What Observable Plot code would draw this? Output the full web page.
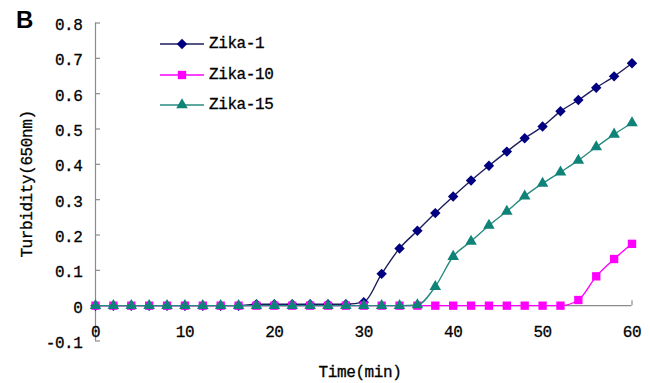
<!DOCTYPE html>
<html>
<head>
<meta charset="utf-8">
<script src="https://cdn.jsdelivr.net/npm/d3@7"></script>
<script src="https://cdn.jsdelivr.net/npm/@observablehq/plot@0.6"></script>
<style>
  html, body { margin: 0; padding: 0; background: #fff; }
  #chart { width: 650px; height: 383px; }
</style>
</head>
<body>
<div id="chart"></div>
<script>
// ---- data ----
const time = [0, 2, 4, 6, 8, 10, 12, 14, 16, 18, 20, 22, 24, 26, 28, 30,
              32, 34, 36, 38, 40, 42, 44, 46, 48, 50, 52, 54, 56, 58, 60];
const zika1 = [0, 0, 0, 0, 0, 0, 0, 0, 0, 0.004, 0.004, 0.004, 0.004, 0.004, 0.004, 0.01,
               0.09, 0.162, 0.212, 0.262, 0.309, 0.354, 0.396, 0.436, 0.474, 0.507, 0.55, 0.582, 0.617, 0.649, 0.686];
const zika10 = [0, 0, 0, 0, 0, 0, 0, 0, 0, 0, 0, 0, 0, 0, 0, 0,
                0, 0, 0, 0, 0, 0, 0, 0, 0, 0, 0, 0.016, 0.083, 0.132, 0.175];
const zika15 = [0, 0, 0, 0, 0, 0, 0, 0, 0, 0, 0, 0, 0, 0, 0, 0,
                0, 0, 0.002, 0.054, 0.139, 0.182, 0.227, 0.267, 0.31, 0.346, 0.378, 0.411, 0.449, 0.485, 0.517];
const seriesNames = ["Zika-1", "Zika-10", "Zika-15"];
const xTicks = [0, 10, 20, 30, 40, 50, 60];
const xTickLabels = ["0", "10", "20", "30", "40", "50", "60"];
const yTicks = [-0.1, 0, 0.1, 0.2, 0.3, 0.4, 0.5, 0.6, 0.7, 0.8];
const yTickLabels = ["-0.1", "0", "0.1", "0.2", "0.3", "0.4", "0.5", "0.6", "0.7", "0.8"];
const xTitle = "Time(min)";
const yTitle = "Turbidity(650nm)";
const panelLabel = "B";

// ---- styles ----
const FONT = "'Liberation Mono', 'DejaVu Sans Mono', monospace";
const AXIS = "#8c8c8c";
const TEXT_STROKE = 0.3;
const styles = {
  "Zika-1":  {line: "#1d1d5e", fill: "#000080", symbol: "diamond2", r: 4.7},
  "Zika-10": {line: "#ff00ff", fill: "#ff00ff", symbol: "square",   r: 4.7},
  "Zika-15": {line: "#2a8a82", fill: "#0f8378", symbol: "triangle", r: 4.3}
};

const valuesBySeries = [zika1, zika10, zika15];
const rows = seriesNames.map((name, s) =>
  time.map((t, i) => ({series: name, time: t, value: valuesBySeries[s][i]})));

const yLabelMap = new Map(yTicks.map((t, i) => [t, yTickLabels[i]]));
const xLabelMap = new Map(xTicks.map((t, i) => [t, xTickLabels[i]]));

const seriesMarks = rows.flatMap((data) => {
  const st = styles[data[0].series];
  return [
    Plot.line(data, {x: "time", y: "value", stroke: st.line, strokeWidth: 1.4, curve: "monotone-x"}),
    Plot.dot(data, {x: "time", y: "value", symbol: st.symbol, r: st.r, fill: st.fill, stroke: "none"})
  ];
});

const svg = Plot.plot({
  width: 650,
  height: 383,
  marginLeft: 95,
  marginRight: 18.5,
  marginTop: 22.5,
  marginBottom: 42.5,
  x: {domain: [0, 60], axis: null},
  y: {domain: [-0.1, 0.8], axis: null},
  style: {fontFamily: FONT, fontSize: "16px", background: "#fff", color: "#000", letterSpacing: "-0.4px"},
  marks: [
    // y axis line and inward ticks
    Plot.ruleX([0], {x: (d) => d, y1: -0.1, y2: 0.8, stroke: AXIS, strokeWidth: 1.2}),
    Plot.ruleY(yTicks, {y: (d) => d, x1: 0, x2: 0, insetRight: -5, stroke: AXIS, strokeWidth: 1.2}),
    Plot.text(yTicks, {y: (d) => d, x: 0, dx: -13, dy: 2, textAnchor: "end", text: (d) => yLabelMap.get(d),
                       fontSize: 16, stroke: "#000", strokeWidth: TEXT_STROKE, fill: "#000"}),
    // x axis line at zero, end tick
    Plot.ruleY([0], {y: (d) => d, x1: 0, x2: 60, stroke: AXIS, strokeWidth: 1.2}),
    Plot.ruleX([60], {x: (d) => d, y1: 0, y2: 0, insetTop: -5, stroke: AXIS, strokeWidth: 1.2}),
    Plot.text(xTicks, {x: (d) => d, y: 0, dy: 26, text: (d) => xLabelMap.get(d), fontSize: 16,
                       stroke: "#000", strokeWidth: TEXT_STROKE, fill: "#000"}),
    ...seriesMarks
  ]
});

document.getElementById("chart").appendChild(svg);

// ---- titles, panel label, legend (real text in the SVG) ----
const root = d3.select(svg);
function addText(sel) {
  return sel.append("text")
    .attr("font-size", 16).attr("font-family", FONT)
    .attr("fill", "#000").attr("stroke", "#000").attr("stroke-width", TEXT_STROKE);
}
addText(root)
  .attr("x", 360).attr("y", 373).attr("text-anchor", "middle").attr("dominant-baseline", "middle")
  .text(xTitle);
addText(root)
  .attr("transform", "translate(28,184) rotate(-90)")
  .attr("text-anchor", "middle").attr("dominant-baseline", "middle")
  .text(yTitle);
root.append("text")
  .attr("x", 16).attr("y", 28)
  .attr("text-anchor", "start")
  .attr("font-size", 24).attr("font-weight", "bold")
  .attr("font-family", "'Liberation Sans', Arial, sans-serif")
  .attr("letter-spacing", 0)
  .text(panelLabel);

const symbolMap = {diamond2: d3.symbolDiamond2, square: d3.symbolSquare, triangle: d3.symbolTriangle};
const legendRowsY = [44, 75, 105];
seriesNames.forEach((name, i) => {
  const st = styles[name];
  const g = root.append("g").attr("transform", `translate(0,${legendRowsY[i]})`);
  g.append("line").attr("x1", 160).attr("x2", 204).attr("y1", 0).attr("y2", 0)
    .attr("stroke", st.line).attr("stroke-width", 1.4);
  g.append("path")
    .attr("transform", "translate(182,0)")
    .attr("d", d3.symbol(symbolMap[st.symbol], Math.PI * st.r * st.r)())
    .attr("fill", st.fill);
  addText(g).attr("x", 209).attr("y", 0).attr("text-anchor", "start").attr("dominant-baseline", "middle")
    .text(name);
});
</script>
</body>
</html>
